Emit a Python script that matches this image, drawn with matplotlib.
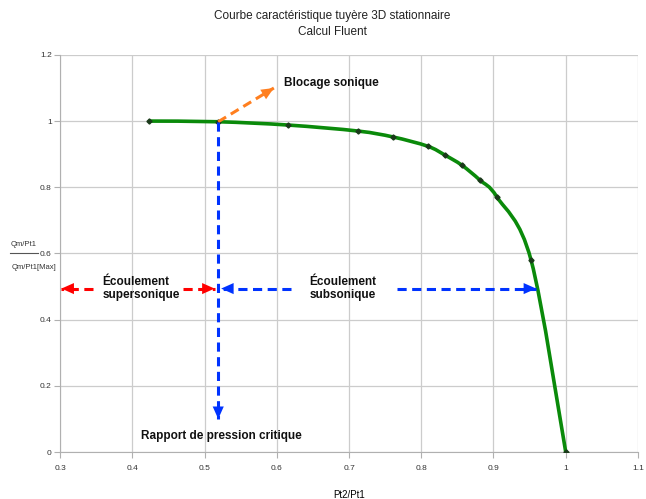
import matplotlib
matplotlib.use("Agg")
from matplotlib import pyplot as plt
from matplotlib.lines import Line2D
from matplotlib.path import Path
from matplotlib.patches import PathPatch

plt.rcParams["font.family"] = ["Liberation Sans", "DejaVu Sans"]

# donnees
pt2_pt1 = [0.423, 0.519, 0.616, 0.712, 0.761, 0.809, 0.833, 0.856, 0.881, 0.905, 0.952, 1.0]
qm_ratio = [1.0, 0.998, 0.988, 0.970, 0.952, 0.924, 0.897, 0.867, 0.822, 0.770, 0.580, 0.0]

x_ticks = [0.3, 0.4, 0.5, 0.6, 0.7, 0.8, 0.9, 1.0, 1.1]
x_labels = ["0.3", "0.4", "0.5", "0.6", "0.7", "0.8", "0.9", "1", "1.1"]
y_ticks = [0, 0.2, 0.4, 0.6, 0.8, 1.0, 1.2]
y_labels = ["0", "0.2", "0.4", "0.6", "0.8", "1", "1.2"]

p_crit = 0.519

fig = plt.figure(figsize=(6.46, 4.99), dpi=100)
ax = fig.add_axes([0.0929, 0.094, 0.8947, 0.796])

# courbe lissee (bezier type catmull-rom, comme le lissage du tableur)
pts = list(zip(pt2_pt1, qm_ratio))
verts = [pts[0]]
codes = [Path.MOVETO]
for i in range(len(pts) - 1):
    p0 = pts[max(i - 1, 0)]
    p1 = pts[i]
    p2 = pts[i + 1]
    p3 = pts[min(i + 2, len(pts) - 1)]
    c1 = (p1[0] + (p2[0] - p0[0]) / 6, p1[1] + (p2[1] - p0[1]) / 6)
    c2 = (p2[0] - (p3[0] - p1[0]) / 6, p2[1] - (p3[1] - p1[1]) / 6)
    verts += [c1, c2, p2]
    codes += [Path.CURVE4] * 3
ax.add_patch(PathPatch(Path(verts, codes), fill=False, edgecolor="#0a8a0a", lw=2.6, zorder=3))
ax.plot(pt2_pt1, qm_ratio, ls="none", marker="D", ms=2.6, color="#1a3a1a", zorder=4)

ax.set_xlim(0.3, 1.1)
ax.set_ylim(0, 1.2)
ax.set_xticks(x_ticks)
ax.set_xticklabels(x_labels)
ax.set_yticks(y_ticks)
ax.set_yticklabels(y_labels)
ax.tick_params(labelsize=6, length=4, color="#b0b0b0", labelcolor="#333333")
ax.tick_params(axis="y", pad=2)
ax.tick_params(axis="x", pad=5)
ax.grid(True, color="#cccccc", lw=0.9)
ax.set_axisbelow(True)
for s in ["top", "right"]:
    ax.spines[s].set_visible(False)
for s in ["left", "bottom"]:
    ax.spines[s].set_color("#b0b0b0")

ax.set_xlabel("Pt2/Pt1", fontsize=7, labelpad=13)

fig.text(0.514, 0.968, "Courbe caractéristique tuyère 3D stationnaire", ha="center", va="center", fontsize=8.5, color="#222222")
fig.text(0.514, 0.936, "Calcul Fluent", ha="center", va="center", fontsize=8.5, color="#222222")

# label y en fraction
fig.text(0.037, 0.51, "Qm/Pt1", ha="center", va="center", fontsize=5.5, color="#333333")
fig.text(0.052, 0.464, "Qm/Pt1[Max]", ha="center", va="center", fontsize=5.5, color="#333333")
fig.add_artist(Line2D([0.016, 0.059], [0.492, 0.492], color="#555555", lw=0.8))

def arrow(x0, y0, x1, y1, c):
    ax.plot([x0, x1], [y0, y1], color=c, lw=2.2, dashes=(3, 1.8), zorder=5)
    ax.annotate("", xy=(x1, y1), xytext=(x0, y0),
                arrowprops=dict(arrowstyle="-|>,head_length=0.9,head_width=0.4",
                                color=c, lw=0, shrinkA=0, shrinkB=0),
                zorder=6)

arrow(p_crit, 0.998, 0.596, 1.10, "#ff7f1f")
arrow(p_crit, 0.998, p_crit, 0.10, "#0033ff")
arrow(0.345, 0.494, 0.302, 0.494, "#ff0000")
arrow(0.47, 0.494, 0.514, 0.494, "#ff0000")
arrow(0.62, 0.494, 0.523, 0.494, "#0033ff")
arrow(0.766, 0.494, 0.959, 0.494, "#0033ff")

tk = dict(fontsize=8.5, fontweight="bold", color="#111111")
ax.text(0.61, 1.115, "Blocage sonique", ha="left", va="center", **tk)
ax.text(0.523, 0.048, "Rapport de pression critique", ha="center", va="center", **tk)
ax.text(0.359, 0.494, "Écoulement\nsupersonique", ha="left", va="center", linespacing=1.2, **tk)
ax.text(0.645, 0.494, "Écoulement\nsubsonique", ha="left", va="center", linespacing=1.2, **tk)

fig.savefig("out.png", dpi=100)
